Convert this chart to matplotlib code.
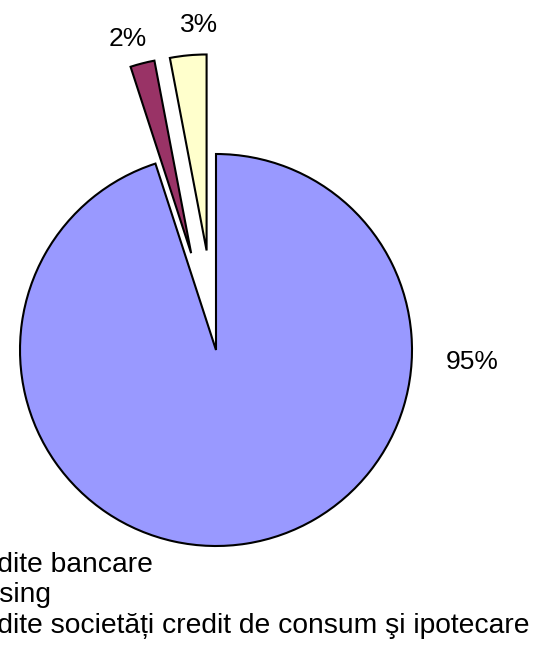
import matplotlib
matplotlib.use("Agg")
import matplotlib.pyplot as plt

# Structure of lending by source
categories = ["Credite bancare", "Leasing",
              "Credite societăți credit de consum şi ipotecare"]
shares = [95, 2, 3]
pct_labels = ["95%", "2%", "3%"]
colors = ["#9999FF", "#993366", "#FFFFCC"]

W, H = 540, 651
fig = plt.figure(figsize=(W / 100, H / 100), dpi=100)
ax = fig.add_axes([0, 0, 1, 1])

cx, cy, r = 216, H - 350, 196
# the two small slices are pulled out by about half a radius
explode = [0, 0.51 * r, 0.51 * r]
wedges, _ = ax.pie(shares, colors=colors, explode=explode, startangle=90,
                   counterclock=False, center=(cx, cy), radius=r,
                   wedgeprops=dict(edgecolor="black", linewidth=1.5))
ax.set_xlim(0, W)
ax.set_ylim(0, H)
ax.set_aspect("equal")
ax.axis("off")

label_font = dict(family="Liberation Sans", size=19, color="black")
legend_font = dict(family="Liberation Sans", size=20.3, color="black")

# percentage labels (centre x, baseline y)
label_pos = [(472, 369), (128, 46), (199, 32)]
for (x, y), t in zip(label_pos, pct_labels):
    ax.text(x, H - y, t, ha="center", va="baseline", **label_font)

# legend rows (left part runs past the figure edge)
leg_x, leg_y0, leg_dy = -47.5, 572, 30.5
for i, name in enumerate(categories):
    ax.text(leg_x, H - (leg_y0 + i * leg_dy), name, ha="left",
            va="baseline", **legend_font)

fig.savefig("out.png", dpi=100)
